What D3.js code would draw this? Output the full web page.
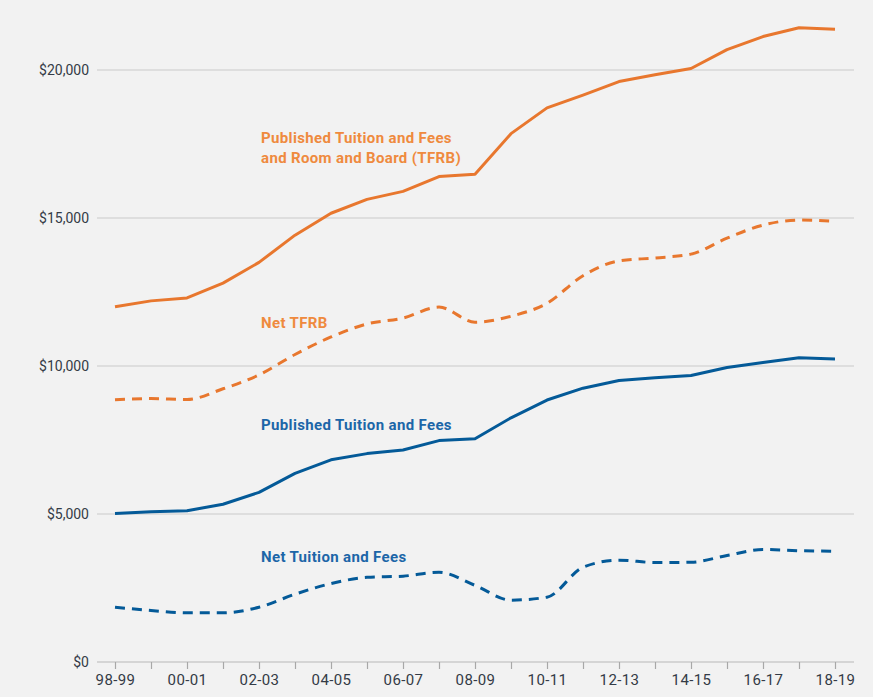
<!DOCTYPE html>
<html>
<head>
<meta charset="utf-8">
<style>
  html, body { margin: 0; padding: 0; background: #f2f2f2; }
  svg { display: block; }
  text { font-family: Roboto, "Liberation Sans", sans-serif; }
</style>
</head>
<body>
<div id="container"></div>
<script src="https://cdn.jsdelivr.net/npm/d3@7"></script>
<script>
  const years = ['98-99', '99-00', '00-01', '01-02', '02-03', '03-04', '04-05', '05-06', '06-07', '07-08',
    '08-09', '09-10', '10-11', '11-12', '12-13', '13-14', '14-15', '15-16', '16-17', '17-18', '18-19'];

  const publishedTFRB = [12000, 12200, 12300, 12800, 13500, 14420, 15160, 15630, 15900, 16400,
    16480, 17850, 18720, 19150, 19610, 19840, 20050, 20690, 21130, 21430, 21380];
  const netTFRB = [8860, 8900, 8870, 9230, 9700, 10390, 10980, 11420, 11620, 11990,
    11480, 11680, 12120, 13050, 13550, 13650, 13780, 14320, 14760, 14930, 14890];
  const publishedTF = [5020, 5080, 5110, 5330, 5730, 6370, 6830, 7040, 7160, 7480,
    7540, 8250, 8850, 9250, 9510, 9600, 9680, 9950, 10120, 10280, 10240];
  const netTF = [1850, 1740, 1660, 1660, 1850, 2290, 2650, 2860, 2900, 3030,
    2590, 2090, 2190, 3200, 3440, 3360, 3370, 3600, 3800, 3760, 3740];

  const yTicks = [0, 5000, 10000, 15000, 20000];
  const xLabelYears = years.filter((_, i) => i % 2 === 0);

  const width = 873;
  const height = 697;

  const orange = '#e8772e';
  const orangeText = '#ef8a3e';
  const blue = '#045a98';
  const blueText = '#1c66a8';
  const tickFont = '"Liberation Sans", Arial, sans-serif';

  const x = d3.scalePoint().domain(years).range([115, 835]);
  const y = d3.scaleLinear().domain([0, 20000]).range([662, 70]);

  const svg = d3.create('svg')
    .attr('width', width)
    .attr('height', height);

  svg.append('rect')
    .attr('width', width)
    .attr('height', height)
    .attr('fill', '#f2f2f2');

  // grid
  svg.append('g')
    .selectAll('line')
    .data(yTicks.filter(d => d > 0))
    .join('line')
    .attr('x1', 97)
    .attr('x2', 854)
    .attr('y1', d => y(d))
    .attr('y2', d => y(d))
    .attr('stroke', '#c9c9c9')
    .attr('stroke-width', 1.2);

  // y labels
  svg.append('g')
    .selectAll('text')
    .data(yTicks)
    .join('text')
    .attr('x', 89)
    .attr('y', d => y(d))
    .attr('dy', '0.35em')
    .attr('text-anchor', 'end')
    .attr('font-size', 14)
    .attr('font-family', tickFont)
    .attr('fill', '#343b46')
    .text(d => '$' + d3.format(',')(d));

  // x axis
  const xAxis = d3.axisBottom(x)
    .tickSize(7)
    .tickPadding(5)
    .tickFormat(d => xLabelYears.includes(d) ? d : '');

  const gx = svg.append('g')
    .attr('transform', `translate(0,${y(0)})`)
    .call(xAxis);
  gx.select('.domain').remove();
  gx.insert('line', ':first-child')
    .attr('x1', 97)
    .attr('x2', 854)
    .attr('stroke', '#b8b8b8')
    .attr('stroke-width', 1.2);
  gx.selectAll('.tick line').attr('stroke', '#a8a8a8').attr('stroke-width', 1.2);
  gx.selectAll('.tick text')
    .attr('font-size', 15)
    .attr('font-family', tickFont)
    .style('letter-spacing', '0.4px')
    .attr('fill', '#343b46');

  const series = [
    { values: publishedTFRB, color: orange, dash: null },
    { values: netTFRB, color: orange, dash: '10,7' },
    { values: publishedTF, color: blue, dash: null },
    { values: netTF, color: blue, dash: '10,7' },
  ];

  const solidLine = d3.line()
    .x((d, i) => x(years[i]))
    .y(d => y(d));

  const dashLine = d3.line()
    .x((d, i) => x(years[i]))
    .y(d => y(d))
    .curve(d3.curveMonotoneX);

  svg.append('g')
    .selectAll('path')
    .data(series)
    .join('path')
    .attr('d', d => d.dash ? dashLine(d.values) : solidLine(d.values))
    .attr('fill', 'none')
    .attr('stroke', d => d.color)
    .attr('stroke-width', 3)
    .attr('stroke-linecap', 'butt')
    .attr('stroke-linejoin', 'round')
    .attr('stroke-dasharray', d => d.dash);

  // labels
  const labels = [
    { lines: ['Published Tuition and Fees', 'and Room and Board (TFRB)'], y: 138, color: orangeText },
    { lines: ['Net TFRB'], y: 323, color: orangeText },
    { lines: ['Published Tuition and Fees'], y: 425, color: blueText },
    { lines: ['Net Tuition and Fees'], y: 557, color: blueText },
  ];

  labels.forEach(l => {
    const t = svg.append('text')
      .attr('x', 261)
      .attr('y', l.y)
      .attr('font-size', 15)
      .attr('font-weight', 'bold')
      .style('letter-spacing', '0.35px')
      .attr('fill', l.color);
    l.lines.forEach((s, i) => {
      t.append('tspan')
        .attr('x', 261)
        .attr('dy', i === 0 ? '0.35em' : '1.33em')
        .text(s);
    });
  });

  document.getElementById('container').appendChild(svg.node());
</script>
</body>
</html>
